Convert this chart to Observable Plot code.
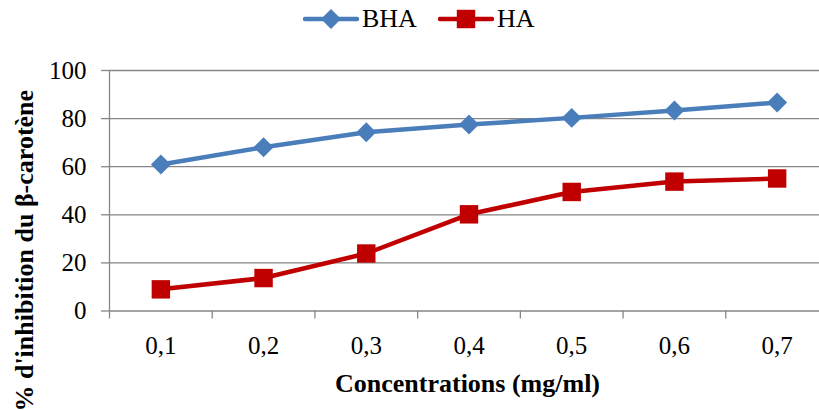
<!DOCTYPE html>
<html>
<head>
<meta charset="utf-8">
<script src="https://cdn.jsdelivr.net/npm/d3@7"></script>
<script src="https://cdn.jsdelivr.net/npm/@observablehq/plot@0.6"></script>
<style>
  html, body { margin: 0; padding: 0; background: #fff; }
  #wrap { position: relative; width: 819px; height: 410px; overflow: hidden;
          font-family: "Liberation Serif", "Times New Roman", serif; }
  #chart svg { max-width: none !important; }
  #legend { position: absolute; top: 6px; left: 303px; display: flex; align-items: center;
            font-size: 26px; color: #000; line-height: 26px; }
  #legend .item { display: flex; align-items: center; }
  #legend .item + .item { margin-left: 21px; }
  #legend svg { display: block; }
  #legend span { margin-left: 3px; }
</style>
</head>
<body>
<div id="wrap">
  <div id="chart"></div>
  <div id="legend"></div>
</div>
<script>
// Concentrations tested (mg/ml)
const categories = ["0,1", "0,2", "0,3", "0,4", "0,5", "0,6", "0,7"];
// % inhibition of β-carotene bleaching
const bhaValues = [60.9, 68.1, 74.3, 77.5, 80.3, 83.4, 86.7];
const haValues = [9.0, 13.7, 23.9, 40.2, 49.5, 53.8, 55.1];
const yTicks = [0, 20, 40, 60, 80, 100];

const seriesNames = ["BHA", "HA"];
const seriesColors = ["#4A7EBB", "#C00000"];
const seriesSymbols = ["diamond2", "square"];

const xTitle = "Concentrations (mg/ml)";
const yTitle = "% d'inhibition du β-carotène";

const gray = "#868686";

// one row per (concentration, series); pos is the category's ordinal position
const rows = categories.flatMap((c, i) => [
  {pos: i + 1, series: "BHA", value: bhaValues[i]},
  {pos: i + 1, series: "HA", value: haValues[i]}
]);
const positions = categories.map((c, i) => i + 1);
const bounds = d3.range(0.5, categories.length + 1, 1);

const chart = Plot.plot({
  width: 828,
  height: 410,
  marginLeft: 109,
  marginRight: 0,
  marginTop: 70,
  marginBottom: 99.5,
  style: {fontFamily: '"Liberation Serif", "Times New Roman", serif', background: "#fff", color: "#000"},
  x: {type: "linear", domain: [0.5, categories.length + 0.5], label: null},
  y: {domain: [0, 100], label: null},
  color: {domain: seriesNames, range: seriesColors},
  symbol: {domain: seriesNames, range: seriesSymbols},
  marks: [
    Plot.gridY(yTicks, {stroke: gray, strokeOpacity: 1, strokeWidth: 1.3}),
    Plot.ruleX([0.5], {stroke: gray, strokeWidth: 1.3}),
    Plot.axisY(yTicks, {tickSize: 8, tickPadding: 15, stroke: gray, strokeWidth: 1.3,
                        fill: "#000", fontSize: 25, label: null}),
    Plot.axisX(bounds, {tickSize: 8, tickFormat: () => "", stroke: gray, strokeWidth: 1.3, label: null}),
    Plot.axisX(positions, {tickSize: 0, tickPadding: 25, tickFormat: (i) => categories[i - 1],
                           fill: "#000", fontSize: 25, label: null}),
    Plot.line(rows, {x: "pos", y: "value", z: "series", stroke: "series", strokeWidth: 4.5,
                     strokeLinejoin: "round", strokeLinecap: "round"}),
    Plot.dot(rows.filter((d) => d.series === "BHA"),
             {x: "pos", y: "value", fill: "series", symbol: "series", r: 9}),
    Plot.dot(rows.filter((d) => d.series === "HA"),
             {x: "pos", y: "value", fill: "series", symbol: "series", r: 10.4}),
    Plot.text([xTitle], {frameAnchor: "bottom", text: (d) => d, dx: -1.5, dy: 73,
                         lineAnchor: "middle", fontSize: 26, fontWeight: "bold", fill: "#000"}),
    Plot.text([yTitle], {frameAnchor: "left", text: (d) => d, rotate: -90, dx: -85, dy: 60,
                         textAnchor: "middle", lineAnchor: "middle",
                         fontSize: 26, fontWeight: "bold", fill: "#000"})
  ]
});
chart.style.maxWidth = "none";
document.getElementById("chart").appendChild(chart);

// legend: a short line sample with its marker, then the series name
const legend = d3.select("#legend");
seriesNames.forEach((name, i) => {
  const item = legend.append("div").attr("class", "item");
  const svg = item.append("svg").attr("width", 56).attr("height", 26);
  svg.append("line").attr("x1", 2).attr("x2", 54).attr("y1", 13).attr("y2", 13)
    .attr("stroke", seriesColors[i]).attr("stroke-width", 4.5).attr("stroke-linecap", "round");
  const sym = seriesSymbols[i] === "square" ? d3.symbolSquare : d3.symbolDiamond2;
  const r = seriesSymbols[i] === "square" ? 10.4 : 9;
  svg.append("path").attr("transform", "translate(28,13)")
    .attr("d", d3.symbol(sym, Math.PI * r * r)())
    .attr("fill", seriesColors[i]);
  item.append("span").text(name);
});
</script>
</body>
</html>
